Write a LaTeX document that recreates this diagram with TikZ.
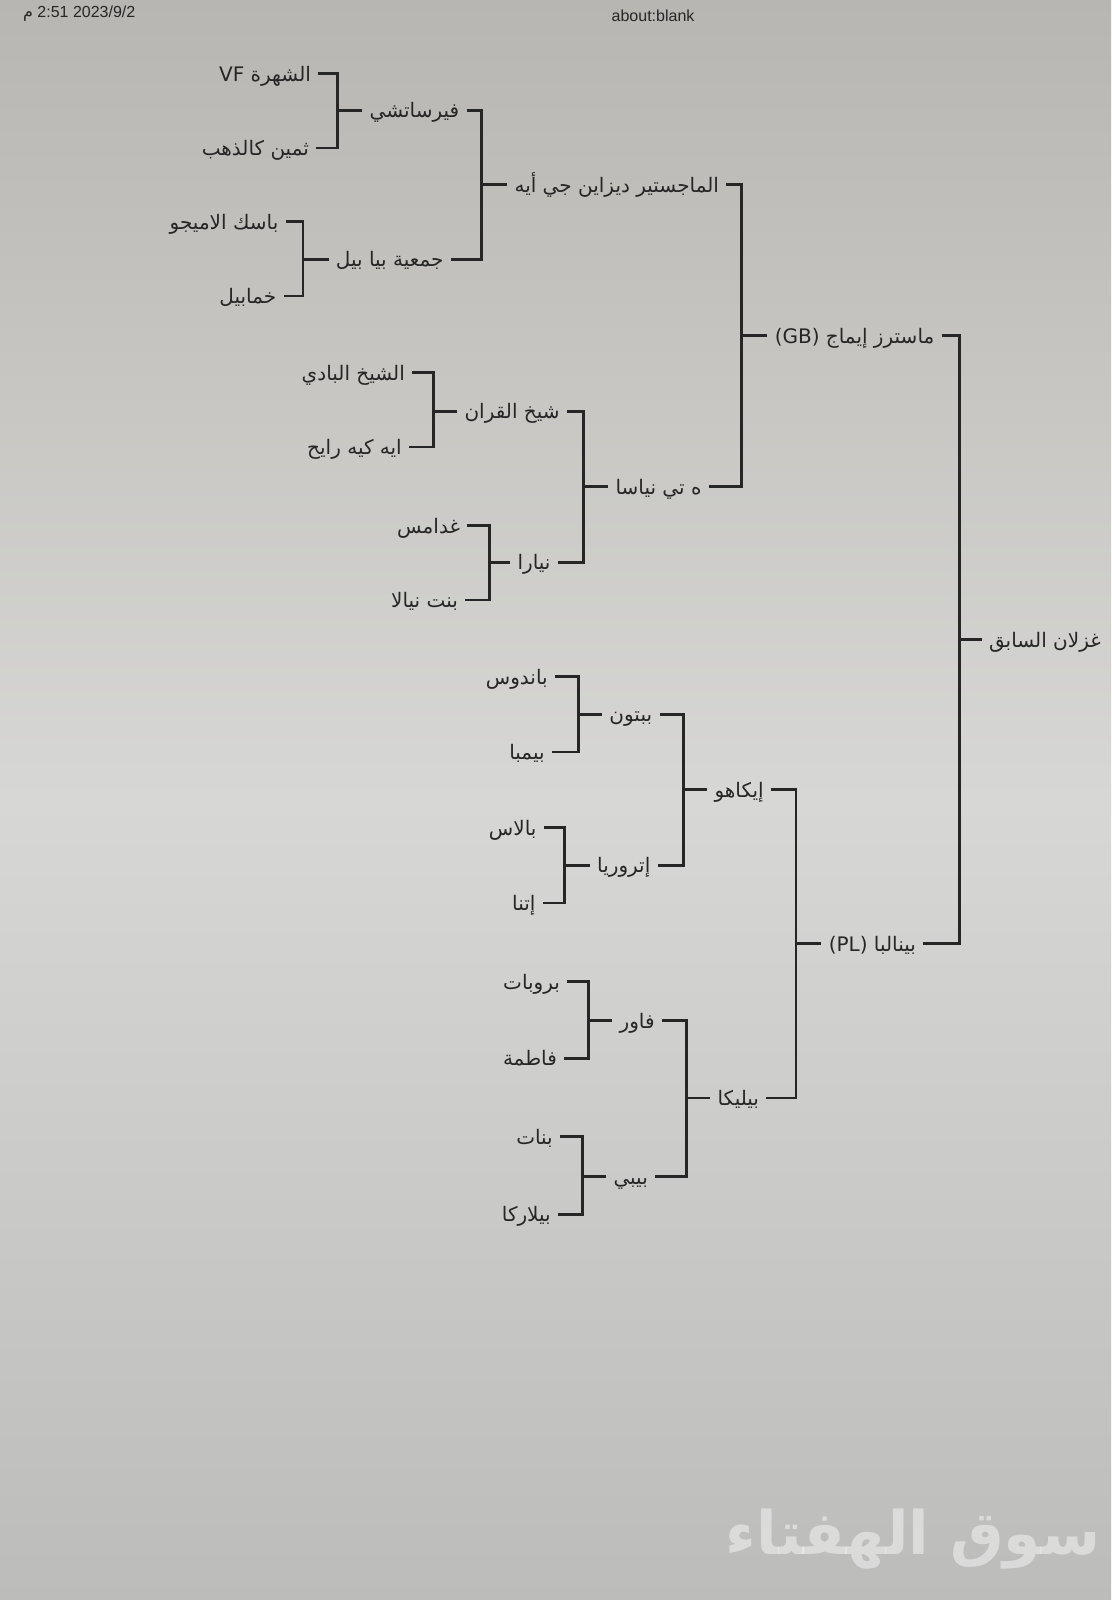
\documentclass[tikz,border=0pt]{standalone}
\usepackage{fontspec}
\setmainfont{Liberation Sans}
\newfontfamily\arabicfont[Script=Arabic]{DejaVu Sans}
\TeXXeTstate=1
\usetikzlibrary{calc}
\definecolor{ink}{HTML}{262626}
\definecolor{papertop}{HTML}{B8B6B2}
\definecolor{papermid}{HTML}{D7D7D5}
\definecolor{paperbot}{HTML}{BCBCBB}
\tikzset{
  team/.style={font=\arabicfont\fontsize{10}{12}\selectfont, text=ink, inner xsep=3.5pt, inner ysep=1pt, text height=7.6pt, text depth=0pt},
  leaf/.style={team, anchor=east},
  win/.style={team, anchor=west},
  bline/.style={draw=ink, line width=1.4pt},
  header/.style={font=\fontsize{8}{9}\selectfont, text=ink, inner sep=0pt},
}
\newcommand\ar[1]{\beginR #1\endR}
\newcommand\bracketto[4]{%
  \draw[bline] (#1.east) -- (#1.east -| #4) -- (#2.east -| #4) -- (#2.east);
  \draw[bline] (#3.west -| #4) -- (#3.west);}
\begin{document}
\begin{tikzpicture}[x=0.5101pt,y=-0.5101pt]
\shade[top color=papertop, bottom color=paperbot, middle color=papermid] (0,0) rectangle (1089,1568);
\useasboundingbox (0,0) rectangle (1089,1568);

% header
\node[header, anchor=east] (date) at (133,13) {{\arabicfont م} 2:51 2023/9/2};
\node[header] (url) at (640,15) {about:blank};

% leaves
\node[leaf] (l1) at (312,72) {\ar{الشهرة \beginL VF\endL}};
\node[leaf] (l2) at (310,145) {\ar{ثمين كالذهب}};
\node[leaf] (l3) at (280,217) {\ar{باسك الاميجو}};
\node[leaf] (l4) at (278,290) {\ar{خمابيل}};
\node[leaf] (l5) at (404,365) {\ar{الشيخ البادي}};
\node[leaf] (l6) at (401,438) {\ar{ايه كيه رايح}};
\node[leaf] (l7) at (458,515) {\ar{غدامس}};
\node[leaf] (l8) at (456,588) {\ar{بنت نيالا}};
\node[leaf] (l9) at (544,663) {\ar{باندوس}};
\node[leaf] (l10) at (541,737) {\ar{بيمبا}};
\node[leaf] (l11) at (533,811) {\ar{بالاس}};
\node[leaf] (l12) at (532,885) {\ar{إتنا}};
\node[leaf] (l13) at (556,962) {\ar{بروبات}};
\node[leaf] (l14) at (553,1037) {\ar{فاطمة}};
\node[leaf] (l15) at (549,1114) {\ar{بنات}};
\node[leaf] (l16) at (547,1190) {\ar{بيلاركا}};

% vertical positions
\coordinate (v1) at (331,0);
\coordinate (v2) at (297,0);
\coordinate (v3) at (425,0);
\coordinate (v4) at (480,0);
\coordinate (v5) at (567,0);
\coordinate (v6) at (553,0);
\coordinate (v7) at (577,0);
\coordinate (v8) at (571,0);
\coordinate (w1) at (472,0);
\coordinate (w2) at (572,0);
\coordinate (w3) at (670,0);
\coordinate (w4) at (673,0);
\coordinate (s1) at (727,0);
\coordinate (s2) at (780,0);
\coordinate (f1) at (940,0);

% round 2
\node[win] (r1) at (355,108) {\ar{فيرساتشي}};
\node[win] (r2) at (322,254) {\ar{جمعية بيا بيل}};
\node[win] (r3) at (448,403) {\ar{شيخ القران}};
\node[win] (r4) at (500,551) {\ar{نيارا}};
\node[win] (r5) at (590,700) {\ar{ببتون}};
\node[win] (r6) at (578,848) {\ar{إتروريا}};
\node[win] (r7) at (600,1000) {\ar{فاور}};
\node[win] (r8) at (594,1153) {\ar{بيبي}};

% quarter
\node[win] (q1) at (497,181) {\ar{الماجستير ديزاين جي أيه}};
\node[win] (q2) at (596,477) {\ar{ه تي نياسا}};
\node[win] (q3) at (693,774) {\ar{إيكاهو}};
\node[win] (q4) at (696,1076) {\ar{بيليكا}};

% semi
\node[win] (sA) at (752,329) {\ar{ماسترز إيماج \beginL(GB)\endL}};
\node[win] (sB) at (805,925) {\ar{بينالبا \beginL(PL)\endL}};

% final
\node[win] (champ) at (962,627) {\ar{غزلان السابق}};

\bracketto{l1}{l2}{r1}{v1}
\bracketto{l3}{l4}{r2}{v2}
\bracketto{l5}{l6}{r3}{v3}
\bracketto{l7}{l8}{r4}{v4}
\bracketto{l9}{l10}{r5}{v5}
\bracketto{l11}{l12}{r6}{v6}
\bracketto{l13}{l14}{r7}{v7}
\bracketto{l15}{l16}{r8}{v8}
\bracketto{r1}{r2}{q1}{w1}
\bracketto{r3}{r4}{q2}{w2}
\bracketto{r5}{r6}{q3}{w3}
\bracketto{r7}{r8}{q4}{w4}
\bracketto{q1}{q2}{sA}{s1}
\bracketto{q3}{q4}{sB}{s2}
\bracketto{sA}{sB}{champ}{f1}

% watermark
\node[font=\arabicfont\bfseries\fontsize{30}{34}\selectfont, text=white, opacity=0.45, inner sep=0pt] (wm) at (895,1508) {\ar{سوق الهفتاء}};
\end{tikzpicture}
\end{document}
